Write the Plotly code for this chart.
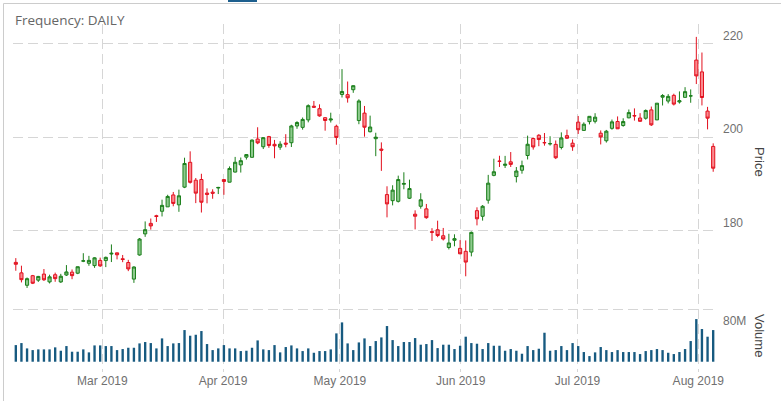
import plotly.graph_objects as go

dates = [
    "2019-02-06", "2019-02-07", "2019-02-08", "2019-02-11", "2019-02-12", "2019-02-13", "2019-02-14", "2019-02-15",
    "2019-02-19", "2019-02-20", "2019-02-21", "2019-02-22", "2019-02-25", "2019-02-26", "2019-02-27", "2019-02-28",
    "2019-03-01", "2019-03-04", "2019-03-05", "2019-03-06", "2019-03-07", "2019-03-08", "2019-03-11", "2019-03-12",
    "2019-03-13", "2019-03-14", "2019-03-15", "2019-03-18", "2019-03-19", "2019-03-20", "2019-03-21", "2019-03-22",
    "2019-03-25", "2019-03-26", "2019-03-27", "2019-03-28", "2019-03-29", "2019-04-01", "2019-04-02", "2019-04-03",
    "2019-04-04", "2019-04-05", "2019-04-08", "2019-04-09", "2019-04-10", "2019-04-11", "2019-04-12", "2019-04-15",
    "2019-04-16", "2019-04-17", "2019-04-18", "2019-04-22", "2019-04-23", "2019-04-24", "2019-04-25", "2019-04-26",
    "2019-04-29", "2019-04-30", "2019-05-01", "2019-05-02", "2019-05-03", "2019-05-06", "2019-05-07", "2019-05-08",
    "2019-05-09", "2019-05-10", "2019-05-13", "2019-05-14", "2019-05-15", "2019-05-16", "2019-05-17", "2019-05-20",
    "2019-05-21", "2019-05-22", "2019-05-23", "2019-05-24", "2019-05-28", "2019-05-29", "2019-05-30", "2019-05-31",
    "2019-06-03", "2019-06-04", "2019-06-05", "2019-06-06", "2019-06-07", "2019-06-10", "2019-06-11", "2019-06-12",
    "2019-06-13", "2019-06-14", "2019-06-17", "2019-06-18", "2019-06-19", "2019-06-20", "2019-06-21", "2019-06-24",
    "2019-06-25", "2019-06-26", "2019-06-27", "2019-06-28", "2019-07-01", "2019-07-02", "2019-07-03", "2019-07-05",
    "2019-07-08", "2019-07-09", "2019-07-10", "2019-07-11", "2019-07-12", "2019-07-15", "2019-07-16", "2019-07-17",
    "2019-07-18", "2019-07-19", "2019-07-22", "2019-07-23", "2019-07-24", "2019-07-25", "2019-07-26", "2019-07-29",
    "2019-07-30", "2019-07-31", "2019-08-01", "2019-08-02", "2019-08-05",
]

opens = [
    173.24, 171.00, 168.35, 170.40, 169.45, 170.74, 169.07, 170.60, 169.07, 170.54, 171.15, 170.93, 173.50, 173.05, 172.55, 173.66,
    173.62, 175.02, 175.27, 174.01, 173.21, 169.67, 174.82, 179.32, 181.56, 183.20, 184.15, 185.09, 187.63, 185.52, 189.30, 194.60,
    190.78, 190.93, 188.03, 188.23, 189.11, 190.91, 190.36, 192.52, 194.05, 195.70, 195.67, 199.56, 197.92, 200.09, 198.44, 197.83,
    198.70, 198.78, 202.35, 202.06, 203.65, 206.57, 206.04, 204.12, 203.62, 202.29, 209.08, 209.04, 210.09, 203.51, 205.10, 201.13,
    199.64, 197.42, 187.71, 186.41, 186.27, 189.91, 186.93, 183.52, 185.22, 184.66, 179.80, 180.20, 178.92, 176.42, 177.95, 176.23,
    175.60, 175.44, 184.28, 183.08, 186.51, 191.81, 194.86, 193.95, 194.70, 191.55, 192.90, 196.05, 199.68, 200.37, 198.80, 198.54,
    198.43, 197.77, 200.29, 198.68, 203.17, 201.41, 203.28, 203.35, 200.81, 199.20, 201.85, 203.31, 202.45, 204.09, 204.59, 204.05,
    204.00, 205.79, 203.65, 208.50, 207.67, 208.89, 207.48, 208.46, 208.76, 216.42, 213.90, 205.53, 197.99,
]
highs = [
    174.15, 172.53, 170.01, 170.56, 170.35, 171.82, 170.61, 171.05, 170.79, 172.66, 171.72, 172.34, 175.20, 174.63, 174.34, 174.25,
    174.48, 177.07, 175.33, 174.82, 173.78, 172.41, 178.44, 181.98, 182.60, 183.40, 186.62, 187.67, 188.27, 188.77, 195.58, 196.94,
    191.25, 192.15, 189.04, 188.84, 189.36, 190.95, 193.72, 195.75, 195.62, 196.35, 199.47, 202.08, 199.98, 200.24, 199.38, 199.09,
    200.60, 202.61, 203.37, 204.16, 206.96, 207.69, 206.97, 204.22, 205.19, 202.63, 214.49, 211.84, 211.03, 208.05, 206.63, 204.56,
    200.91, 198.85, 189.48, 189.70, 191.75, 192.47, 190.90, 184.35, 188.00, 185.71, 180.54, 182.14, 180.59, 179.35, 179.23, 177.99,
    177.92, 179.83, 184.99, 185.47, 191.92, 195.37, 196.00, 195.97, 196.79, 193.59, 194.96, 200.29, 199.88, 200.61, 200.85, 200.16,
    199.26, 200.99, 201.57, 199.49, 204.49, 203.13, 204.44, 205.08, 201.40, 201.51, 203.73, 204.39, 204.00, 205.87, 206.11, 205.09,
    205.88, 206.50, 207.23, 209.15, 209.15, 209.24, 209.73, 210.64, 210.16, 221.37, 218.03, 206.43, 198.65,
]
lows = [
    171.45, 168.96, 167.78, 168.61, 169.06, 169.27, 168.74, 169.10, 168.85, 170.34, 169.65, 170.73, 173.29, 172.51, 172.07, 172.26,
    172.23, 173.31, 173.88, 173.28, 171.37, 168.86, 174.68, 178.69, 180.23, 181.87, 183.04, 185.08, 185.21, 184.03, 189.09, 190.06,
    185.89, 183.88, 185.84, 186.82, 187.82, 187.66, 190.32, 192.42, 192.41, 195.19, 195.59, 198.47, 197.43, 197.69, 195.46, 197.26,
    197.81, 197.86, 201.75, 201.57, 203.13, 206.26, 204.34, 201.35, 203.09, 198.35, 208.43, 207.34, 209.43, 202.73, 200.07, 200.98,
    195.91, 192.77, 182.85, 185.41, 186.02, 188.84, 186.76, 180.28, 184.70, 182.55, 177.81, 178.62, 177.91, 176.00, 176.67, 174.99,
    170.27, 174.52, 181.14, 182.15, 185.77, 191.62, 193.60, 193.39, 193.60, 190.30, 192.17, 195.21, 197.31, 198.03, 198.15, 198.17,
    195.29, 197.35, 199.57, 197.05, 200.65, 201.36, 202.69, 202.90, 198.41, 198.81, 201.56, 201.71, 202.20, 204.00, 203.50, 203.27,
    203.70, 202.36, 203.61, 206.73, 207.17, 206.73, 207.14, 208.44, 207.31, 211.30, 206.74, 201.63, 192.58,
]
closes = [
    172.83, 169.55, 169.76, 168.79, 170.24, 169.53, 170.15, 169.77, 170.28, 171.20, 170.41, 172.31, 173.57, 173.67, 174.21, 172.49,
    174.31, 175.18, 174.86, 173.86, 171.84, 172.25, 178.22, 180.22, 181.02, 183.03, 185.41, 187.31, 185.82, 187.45, 194.35, 190.32,
    188.02, 186.08, 187.75, 188.00, 189.23, 190.51, 193.28, 194.61, 194.95, 196.25, 199.34, 198.74, 199.86, 198.19, 198.11, 198.47,
    198.49, 202.36, 203.09, 203.75, 206.69, 206.37, 204.50, 203.52, 203.83, 199.91, 209.72, 208.36, 210.95, 207.69, 202.09, 202.13,
    199.96, 197.18, 185.72, 188.66, 190.92, 190.08, 189.00, 183.09, 186.60, 182.78, 179.66, 178.97, 178.23, 177.38, 178.30, 175.07,
    173.30, 179.64, 182.54, 185.22, 190.15, 192.58, 194.81, 194.19, 194.15, 192.74, 193.89, 198.45, 197.87, 199.46, 198.78, 198.58,
    195.57, 199.80, 199.74, 197.92, 201.55, 202.73, 204.41, 204.23, 200.02, 201.24, 203.23, 201.75, 203.30, 205.21, 204.50, 203.35,
    205.66, 202.59, 207.22, 208.84, 208.67, 207.02, 207.74, 209.68, 208.78, 213.04, 208.43, 204.02, 193.34,
]
volumes_m = [
    25.6, 28.7, 20.5, 17.9, 19.0, 19.0, 19.0, 22.1, 16.9, 24.1, 15.4, 15.4, 19.0, 14.4, 25.1, 25.1,
    24.1, 24.1, 17.9, 19.5, 21.5, 21.5, 28.2, 30.3, 28.7, 20.5, 35.9, 24.1, 28.2, 28.7, 48.7, 40.0,
    41.5, 47.2, 27.2, 17.9, 20.5, 25.6, 20.5, 20.5, 16.4, 16.9, 21.5, 32.8, 19.0, 17.9, 25.6, 14.4,
    22.6, 25.1, 20.5, 16.4, 20.5, 13.8, 16.4, 16.4, 19.0, 43.6, 60.5, 28.2, 17.9, 29.7, 35.9, 24.1,
    31.8, 37.4, 54.9, 33.3, 24.1, 30.3, 30.3, 36.4, 26.2, 27.2, 33.3, 21.0, 26.2, 26.2, 19.5, 24.6,
    38.5, 28.7, 27.7, 19.5, 28.7, 24.6, 24.6, 16.9, 19.5, 16.9, 12.3, 24.1, 17.9, 20.0, 44.6, 16.9,
    17.9, 24.1, 17.9, 28.7, 24.1, 14.9, 8.7, 14.4, 22.6, 17.9, 14.9, 17.9, 14.9, 14.9, 14.9, 11.8,
    16.4, 17.9, 19.5, 17.9, 13.8, 11.8, 14.9, 19.5, 31.8, 65.6, 50.3, 38.5, 48.7,
]

price_ticks = [180, 200, 220]
volume_ticks = [80]
volume_tick_text = ["80M"]

idx = list(range(len(dates)))

GRID = "#d6d6d6"
DASH = "10px,5px"
TICKFONT = dict(family="Arial, Liberation Sans, sans-serif", size=12, color="#707070")

# plot area in page pixels (body margin removed below)
PL, PR, PT, PB = 13, 716, 24, 372
PW, PH = PR - PL, PB - PT


def px(x):
    return (x - PL) / PW


def py(y):
    return (PB - y) / PH


fig = go.Figure()
fig.add_trace(go.Bar(
    x=idx, y=volumes_m, xaxis="x", yaxis="y2", width=0.42,
    marker=dict(color="#175a80", line=dict(width=0)),
    hovertext=dates, showlegend=False,
))
fig.add_trace(go.Candlestick(
    x=idx, open=opens, high=highs, low=lows, close=closes,
    xaxis="x", yaxis="y", hovertext=dates, whiskerwidth=0,
    increasing=dict(line=dict(color="#1b7f1b", width=1), fillcolor="rgba(30,150,30,0.5)"),
    decreasing=dict(line=dict(color="#e2101e", width=1), fillcolor="rgba(245,30,40,0.52)"),
    showlegend=False,
))
# invisible trace that carries the calendar axis (month ticks and grid)
fig.add_trace(go.Scatter(
    x=dates, y=closes, xaxis="x2", yaxis="y", mode="markers",
    marker=dict(opacity=0, size=1), hoverinfo="skip", showlegend=False,
))

fig.update_layout(
    width=781, height=401, autosize=False,
    margin=dict(l=PL, r=781 - PR, t=PT, b=401 - PB, pad=0),
    paper_bgcolor="white", plot_bgcolor="white",
    boxgap=0.2,
    xaxis=dict(domain=[0, 1], range=[-0.5, len(dates) - 0.5], showgrid=False, zeroline=False,
               showticklabels=False, showline=False, rangeslider=dict(visible=False), fixedrange=True),
    xaxis2=dict(overlaying="x", anchor="y", side="bottom", type="date",
                range=["2019-02-06 01:50", "2019-08-05 13:00"],
                tick0="2019-03-01", dtick="M1", tickformat="%b %Y",
                showgrid=True, gridcolor=GRID, griddash=DASH, gridwidth=1,
                zeroline=False, showline=False, ticks="", tickfont=TICKFONT),
    yaxis=dict(domain=[0, 1], range=[149.84, 224.12], side="right", tickvals=price_ticks,
               showgrid=True, gridcolor=GRID, griddash=DASH, gridwidth=1, zeroline=False,
               showline=False, ticks="", tickfont=TICKFONT, ticklabelshift=-8, ticklabelstandoff=6),
    yaxis2=dict(overlaying="y", side="right", range=[-15.8, 519.5], tickvals=volume_ticks,
                ticktext=volume_tick_text, showgrid=True, gridcolor=GRID, griddash=DASH, gridwidth=1,
                zeroline=False, showline=False, ticks="", tickfont=TICKFONT, ticklabelshift=11,
                ticklabelstandoff=6),
    annotations=[
        dict(text="Frequency: DAILY", xref="paper", yref="paper", x=px(13), y=py(20),
             xanchor="left", yanchor="middle", showarrow=False,
             font=dict(family="Open Sans, sans-serif", size=13.5, color="#666666")),
        dict(text="Price", xref="paper", yref="paper", x=px(760), y=py(162),
             textangle=90, xanchor="center", yanchor="middle", showarrow=False,
             font=dict(family="Arial, Liberation Sans, sans-serif", size=13, color="#444444")),
        dict(text="Volume", xref="paper", yref="paper", x=px(760), y=py(335),
             textangle=90, xanchor="center", yanchor="middle", showarrow=False,
             font=dict(family="Arial, Liberation Sans, sans-serif", size=13, color="#444444")),
    ],
    shapes=[
        dict(type="rect", xref="paper", yref="paper",
             x0=px(3.5), x1=px(800), y0=py(420), y1=py(3.5),
             line=dict(color="#cccccc", width=1), fillcolor="rgba(0,0,0,0)", layer="above"),
        dict(type="rect", xref="paper", yref="paper",
             x0=px(228), x1=px(257), y0=py(2), y1=py(-6),
             line=dict(width=0), fillcolor="#1d5f8e", layer="above"),
    ],
)

fig.write_html("out.html", config={"displayModeBar": False},
               post_script="document.body.style.margin='0px';")
